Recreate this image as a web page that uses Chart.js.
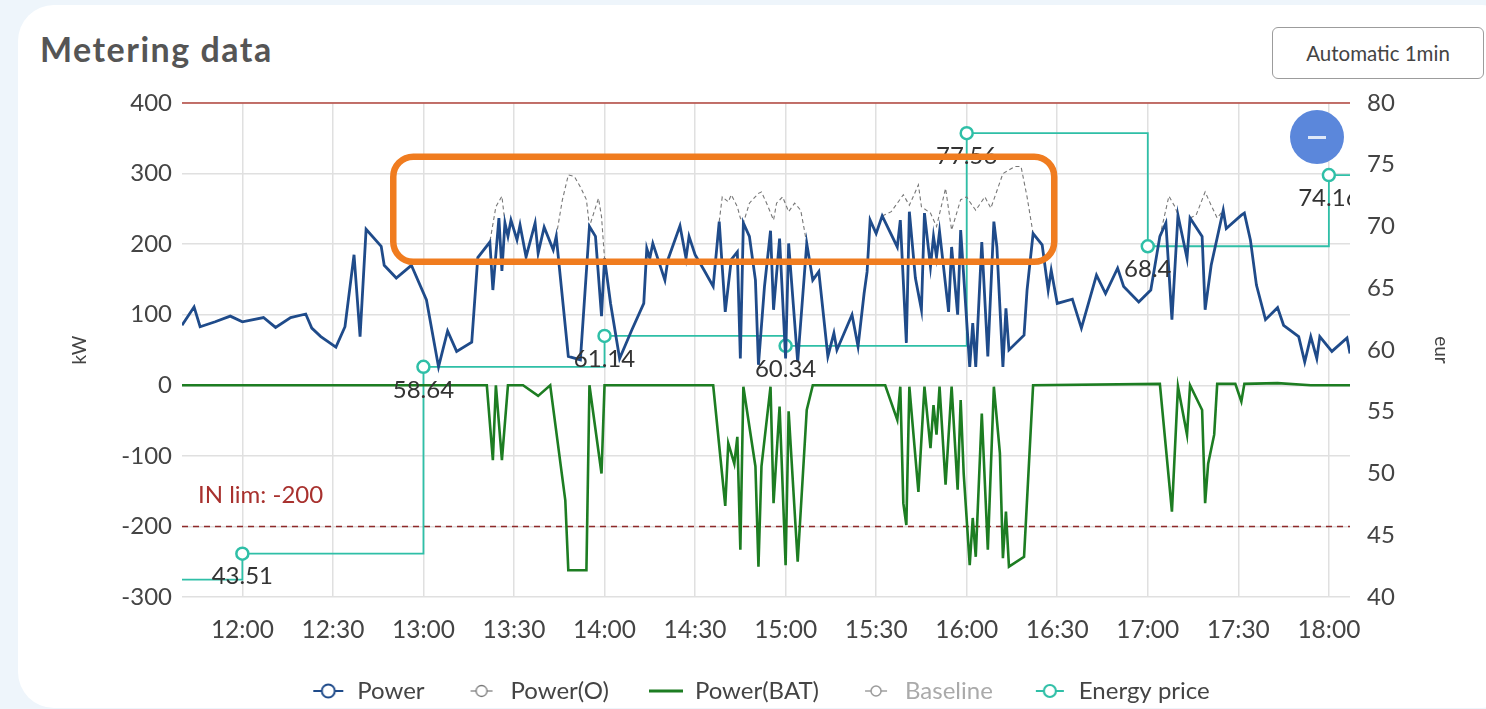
<!DOCTYPE html>
<html>
<head>
<meta charset="utf-8">
<title>Metering data</title>
<script src="https://cdn.jsdelivr.net/npm/chart.js@4.4.1/dist/chart.umd.min.js"></script>
<style>
  html, body { margin: 0; padding: 0; width: 1486px; height: 709px; overflow: hidden; background: #eef5fb; font-family: Lato, sans-serif; }
  .card { position: absolute; left: 18px; top: 5px; width: 1500px; height: 703px; background: #fff; border-radius: 36px; }
  h1 { position: absolute; left: 40px; top: 32px; margin: 0; font-size: 34px; line-height: 34px; font-weight: 700; color: #555; letter-spacing: 1.5px; }
  .btn { position: absolute; left: 1272px; top: 27px; width: 210px; height: 50px; border: 1px solid #9c9c9c; border-radius: 6px;
         display: flex; align-items: center; justify-content: center; font-size: 20.5px; color: #444; }
  .fab { position: absolute; left: 1290px; top: 110px; width: 54px; height: 54px; border-radius: 50%; background: #5b87db; }
  .fab span { position: absolute; left: 18px; top: 26px; width: 18px; height: 3px; background: #dfe8f8; }
  canvas { position: absolute; left: 0; top: 0; }
</style>
</head>
<body>
<div class="card"></div>
<h1>Metering data</h1>
<div class="btn">Automatic 1min</div>
<canvas id="chart" width="1486" height="709"></canvas>
<div class="fab"><span></span></div>
<script>
// times are minutes since midnight
const powerTimes = [700, 704, 706, 711, 716, 720, 727, 731, 736, 741, 743, 746, 751, 754, 757, 759, 761, 766, 767, 771,
  776, 781, 785, 788, 791, 796, 798, 802, 803, 805, 806, 807, 808, 809, 811, 812, 814, 817, 818, 820,
  823, 824, 828, 832, 835, 837, 839, 840, 842, 845, 849, 853, 854, 855, 856, 860, 861, 865, 867, 868,
  870, 873, 876, 878, 880, 882, 884, 885, 886, 888, 890, 891, 893, 895, 896, 898, 900, 901, 904, 907,
  909, 911, 914, 916, 917, 922, 924, 926, 927, 928, 930, 932, 937, 938, 940, 941, 943, 945, 946, 948,
  949, 950, 951, 954, 955, 957, 958, 961, 962, 963, 965, 967, 969, 970, 972, 973, 974, 979, 980, 982,
  985, 987, 988, 990, 995, 998, 1003, 1006, 1010, 1012, 1017, 1021, 1024, 1026, 1028, 1030, 1033, 1034, 1038, 1039,
  1041, 1045, 1046, 1051, 1052, 1054, 1056, 1059, 1063, 1065, 1070, 1072, 1074, 1076, 1077, 1081, 1086, 1087];
const powerValues = [85, 111, 83, 90, 98, 90, 96, 82, 96, 101, 81, 69, 54, 83, 185, 69, 221, 197, 170, 152,
  170, 121, 26, 77, 48, 61, 181, 203, 135, 237, 162, 230, 211, 234, 206, 227, 182, 230, 187, 224,
  192, 211, 41, 36, 225, 211, 98, 180, 116, 38, 78, 116, 194, 180, 201, 149, 178, 226, 180, 211,
  185, 163, 140, 232, 104, 178, 189, 38, 230, 211, 149, 29, 140, 219, 107, 208, 38, 201, 33, 201,
  149, 161, 41, 74, 50, 100, 55, 130, 161, 234, 215, 240, 196, 234, 60, 246, 152, 107, 244, 168,
  211, 182, 218, 104, 196, 100, 220, 26, 88, 26, 203, 41, 232, 196, 26, 109, 50, 71, 135, 215,
  199, 135, 163, 116, 122, 81, 156, 130, 166, 140, 118, 135, 211, 230, 93, 241, 180, 237, 211, 107,
  170, 248, 222, 241, 244, 206, 142, 93, 110, 85, 69, 33, 69, 38, 69, 48, 67, 45];

// Power(O) only shows where it leaves the Power line (null = gap)
const powerOTimes = [798, 802, 804, 806, 807, 810,
  824, 826, 828, 830, 832, 834, 835, 838, 839, 840, 850,
  878, 879, 881, 882, 884, 885, 886, 888, 891, 892, 894, 896, 897, 899, 901, 903, 905, 906, 907, 920,
  932, 935, 939, 941, 944, 945, 948, 950, 953, 955, 958, 960, 961, 963, 966, 968, 972, 976, 978, 980, 982, 1000,
  1024, 1027, 1029, 1030, 1032,
  1034, 1036, 1039, 1041, 1043, 1045];
const powerOValues = [181, 203, 253, 268, 230, null,
  211, 262, 298, 296, 281, 263, 225, 265, 239, 180, null,
  232, 267, 260, 270, 253, 237, 230, 258, 272, 274, 255, 234, 258, 267, 246, 258, 248, 225, 201, null,
  240, 246, 270, 255, 284, 253, 244, 225, 279, 220, 263, 267, 260, 248, 267, 251, 300, 310, 310, 267, 215, null,
  211, 268, 253, 241, null,
  237, 241, 274, 255, 237, 248];

const batTimes = [700, 801, 803, 804, 806, 808, 813, 818, 822, 827, 828, 834, 835, 839, 840, 876, 880, 881, 883, 884,
  885, 886, 890, 891, 892, 895, 896, 898, 900, 901, 904, 907, 909, 933, 937, 938, 939, 940, 941, 944,
  946, 948, 949, 950, 951, 953, 955, 957, 958, 959, 961, 962, 963, 965, 967, 969, 971, 972, 973, 974,
  979, 982, 1024, 1028, 1030, 1033, 1034, 1038, 1039, 1040, 1042, 1043, 1049, 1051, 1052, 1063, 1074, 1087];
const batValues = [0, 0, -106, 0, -106, 0, 0, -15, 0, -163, -262, -262, 0, -125, 0, 0, -171, -82, -111, -73,
  -233, -2, -115, -257, -115, -2, -167, -30, -255, -37, -250, -35, 0, 0, -49, -2, -167, -198, -2, -151,
  -2, -89, -28, -70, -2, -141, -2, -148, -21, -125, -255, -188, -243, -40, -233, -2, -96, -245, -179, -257,
  -243, 0, 2, -179, -2, -70, 0, -35, -167, -111, -70, 2, 2, -23, 2, 3, 0, 0];

const priceTimes = [660, 720, 780, 840, 900, 960, 1020, 1080, 1140];
const priceValues = [41.4, 43.51, 58.64, 61.14, 60.34, 77.56, 68.4, 74.16, 74.16];

const xTicks = [720, 750, 780, 810, 840, 870, 900, 930, 960, 990, 1020, 1050, 1080];
const outLimit = 400;
const inLimit = -200;
const highlight = { from: 770, to: 989, top: 324, bottom: 175 };

function hhmm(m) {
  return String(Math.floor(m / 60)).padStart(2, '0') + ':' + String(m % 60).padStart(2, '0');
}
function pts(times, values) {
  return times.map((t, i) => ({ x: t, y: values[i] }));
}

function marker(color, o) {
  const c = document.createElement('canvas');
  c.width = 34; c.height = 16;
  const g = c.getContext('2d');
  g.strokeStyle = color;
  g.lineWidth = o.lw;
  g.beginPath(); g.moveTo(o.x0, 8); g.lineTo(34 - o.x0, 8); g.stroke();
  if (o.r) {
    g.fillStyle = '#fff';
    g.lineWidth = o.bw || 1.8;
    g.beginPath(); g.arc(17, 8, o.r, 0, Math.PI * 2); g.fill(); g.stroke();
  }
  return c;
}
const markers = [
  marker('#1f4b8a', { lw: 2, x0: 2, r: 6.5, bw: 2 }),
  marker('#777', { lw: 1.2, x0: 6, r: 5.5, bw: 1.3 }),
  marker('#1d7d22', { lw: 3, x0: 0 }),
  marker('#999', { lw: 1.4, x0: 6, r: 5, bw: 1.5 }),
  marker('#2fbfa7', { lw: 2, x0: 3, r: 6, bw: 2.2 })
];
const legendColors = ['#444', '#444', '#444', '#aaa', '#444'];

const overlay = {
  id: 'overlay',
  beforeDatasetsDraw(chart) {
    const { ctx, chartArea: a, scales: { y } } = chart;
    ctx.save();
    const yo = y.getPixelForValue(outLimit);
    ctx.strokeStyle = '#b5473f';
    ctx.lineWidth = 1.5;
    ctx.beginPath(); ctx.moveTo(a.left, yo); ctx.lineTo(a.right, yo); ctx.stroke();
    const yi = y.getPixelForValue(inLimit);
    ctx.strokeStyle = '#8e2a2a';
    ctx.setLineDash([6, 5]);
    ctx.beginPath(); ctx.moveTo(a.left, yi); ctx.lineTo(a.right, yi); ctx.stroke();
    ctx.setLineDash([]);
    ctx.fillStyle = '#a8312e';
    ctx.font = '24px Lato';
    ctx.textBaseline = 'middle';
    ctx.fillText('IN lim: ' + inLimit, a.left + 16, yi - 31);
    ctx.restore();
  },
  afterDatasetsDraw(chart) {
    const { ctx, chartArea: a, scales: { x, y } } = chart;
    ctx.save();
    ctx.beginPath(); ctx.rect(a.left, a.top, a.right - a.left, a.bottom - a.top); ctx.clip();
    ctx.fillStyle = '#333';
    ctx.font = '24px Lato';
    ctx.textAlign = 'center';
    ctx.textBaseline = 'middle';
    chart.getDatasetMeta(4).data.forEach((p, i) => {
      ctx.fillText(String(priceValues[i]), p.x, p.y + 23);
    });
    ctx.restore();

    // highlight frame
    const l = x.getPixelForValue(highlight.from), r = x.getPixelForValue(highlight.to);
    const t = y.getPixelForValue(highlight.top), b = y.getPixelForValue(highlight.bottom);
    ctx.save();
    ctx.strokeStyle = '#f07c1f';
    ctx.lineWidth = 6.5;
    ctx.beginPath();
    ctx.roundRect(l, t, r - l, b - t, 20);
    ctx.stroke();
    ctx.restore();
  }
};

Chart.defaults.font.family = 'Lato, sans-serif';
Chart.defaults.color = '#444';

new Chart(document.getElementById('chart'), {
  type: 'line',
  data: {
    datasets: [
      { label: 'Power', data: pts(powerTimes, powerValues), borderColor: '#1f4b8a', backgroundColor: '#fff',
        borderWidth: 2.8, pointRadius: 0, yAxisID: 'y' },
      { label: 'Power(O)', data: pts(powerOTimes, powerOValues), borderColor: '#777', backgroundColor: '#fff',
        borderWidth: 1.1, borderDash: [4, 3], pointRadius: 0, spanGaps: false, yAxisID: 'y' },
      { label: 'Power(BAT)', data: pts(batTimes, batValues), borderColor: '#1d7d22', backgroundColor: '#1d7d22',
        borderWidth: 2.6, pointRadius: 0, yAxisID: 'y' },
      { label: 'Baseline', data: [], borderColor: '#999', backgroundColor: '#fff', pointRadius: 0, yAxisID: 'y' },
      { label: 'Energy price', data: pts(priceTimes, priceValues), borderColor: '#2fbfa7', backgroundColor: '#fff',
        borderWidth: 1.8, stepped: 'before', pointRadius: 6, pointBorderWidth: 2.5,
        pointBackgroundColor: '#fff', pointBorderColor: '#2fbfa7', yAxisID: 'y1' }
    ]
  },
  options: {
    responsive: false,
    animation: false,
    devicePixelRatio: 1,
    layout: { padding: { top: 103, left: 64, right: 29, bottom: 4 } },
    scales: {
      x: {
        type: 'linear', min: 700, max: 1087,
        afterBuildTicks: s => { s.ticks = xTicks.map(v => ({ value: v })); },
        afterFit: s => { s.height = 42; },
        ticks: { callback: v => hhmm(v), font: { size: 24.5 }, color: '#444', padding: 18, autoSkip: false, maxRotation: 0 },
        grid: { color: '#e0e0e0', lineWidth: 1.5, drawTicks: false },
        border: { display: false }
      },
      y: {
        position: 'left', min: -300, max: 400,
        afterFit: s => { s.width = 118; },
        ticks: { stepSize: 100, callback: v => String(v), font: { size: 24 }, color: '#444', padding: 10 },
        grid: { color: '#e0e0e0', lineWidth: 1.5, drawTicks: false },
        border: { display: false },
        title: { display: true, text: 'kW', font: { size: 19 }, color: '#444', padding: 4 }
      },
      y1: {
        position: 'right', min: 40, max: 80,
        afterFit: s => { s.width = 107; },
        ticks: { stepSize: 5, font: { size: 24 }, color: '#444', padding: 17 },
        grid: { display: false, drawTicks: false },
        border: { display: false },
        title: { display: true, text: 'eur', font: { size: 19 }, color: '#444', padding: 4 }
      }
    },
    plugins: {
      legend: {
        position: 'bottom',
        maxHeight: 66,
        labels: {
          usePointStyle: true,
          pointStyleWidth: 34,
          padding: 40,
          font: { size: 24 },
          generateLabels: chart => Chart.defaults.plugins.legend.labels.generateLabels(chart).map((item, i) => {
            item.pointStyle = markers[i];
            item.fontColor = legendColors[i];
            return item;
          })
        }
      },
      tooltip: { enabled: false }
    }
  },
  plugins: [overlay]
});
</script>
</body>
</html>
